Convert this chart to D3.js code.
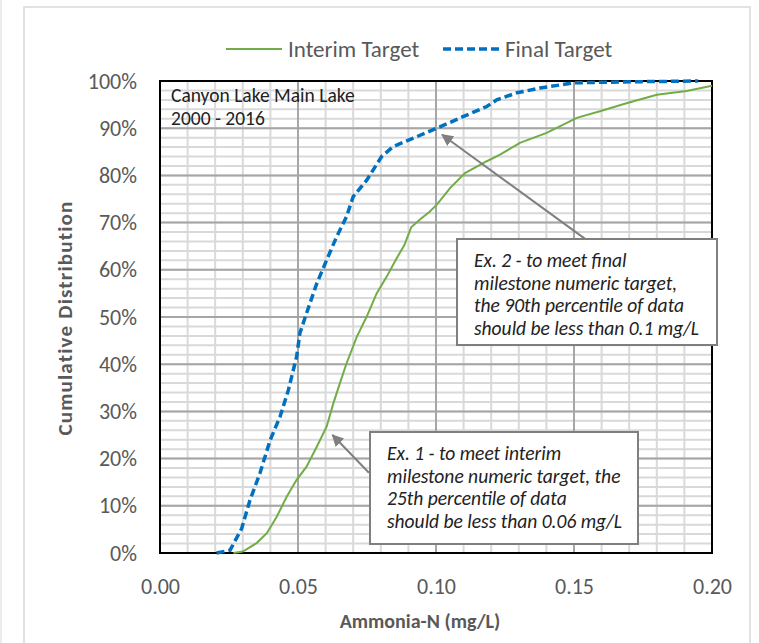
<!DOCTYPE html>
<html>
<head>
<meta charset="utf-8">
<script src="https://cdn.jsdelivr.net/npm/d3@7"></script>
<style>
  body { margin: 0; background: #fff; }
  svg { font-family: Carlito, Calibri, Lato, sans-serif; }
</style>
</head>
<body>
<div id="chart"></div>
<script>
// data
var seriesNames = ["Interim Target", "Final Target"];

var interimX = [0.0266, 0.030, 0.035, 0.0387, 0.0423, 0.0459, 0.0495, 0.0531, 0.0568, 0.0604, 0.0628, 0.0652, 0.0676, 0.0713, 0.0749, 0.0785, 0.0821, 0.0855, 0.0885, 0.091, 0.0945, 0.0975, 0.1003, 0.1051, 0.1105, 0.1184, 0.1232, 0.1304, 0.1401, 0.151, 0.1594, 0.169, 0.180, 0.1908, 0.200];
var interimY = [0, 0.003, 0.021, 0.042, 0.077, 0.119, 0.155, 0.183, 0.225, 0.268, 0.317, 0.360, 0.402, 0.458, 0.501, 0.550, 0.585, 0.622, 0.652, 0.690, 0.708, 0.722, 0.738, 0.773, 0.805, 0.830, 0.844, 0.869, 0.890, 0.922, 0.936, 0.953, 0.971, 0.979, 0.990];

var finalX = [0.0205, 0.0254, 0.0296, 0.0326, 0.0362, 0.0399, 0.0435, 0.0465, 0.0495, 0.0507, 0.0531, 0.0568, 0.0604, 0.064, 0.0676, 0.070, 0.0749, 0.0803, 0.0845, 0.0918, 0.1003, 0.110, 0.1184, 0.122, 0.1293, 0.1377, 0.1498, 0.1667, 0.195];
var finalY = [0, 0.006, 0.052, 0.112, 0.169, 0.239, 0.289, 0.345, 0.416, 0.466, 0.508, 0.571, 0.621, 0.670, 0.713, 0.755, 0.790, 0.840, 0.861, 0.879, 0.900, 0.925, 0.946, 0.960, 0.975, 0.985, 0.996, 0.998, 1.0];

var xTicks = [0, 0.05, 0.10, 0.15, 0.20];
var yTicks = [0, 0.1, 0.2, 0.3, 0.4, 0.5, 0.6, 0.7, 0.8, 0.9, 1.0];

var noteTitle = ["Canyon Lake Main Lake", "2000 - 2016"];
var note1 = ["Ex. 1 -  to meet interim", "milestone numeric target, the", "25th percentile of data", "should be less than 0.06 mg/L"];
var note2 = ["Ex. 2 -  to meet final", "milestone numeric target,", "the 90th percentile of data", "should be less than 0.1 mg/L"];

var width = 759;
var height = 643;
var margin = { top: 81, right: 47, bottom: 90, left: 160 };
var pw = width - margin.left - margin.right;
var ph = height - margin.top - margin.bottom;

var textGray = "#595959";

var svg = d3.select("#chart")
    .append("svg")
    .attr("width", width)
    .attr("height", height);

// outer chart frame
svg.append("rect")
    .attr("x", 24).attr("y", 7)
    .attr("width", 726).attr("height", 660)
    .attr("fill", "none")
    .attr("stroke", "#d9d9d9")
    .attr("stroke-width", 1.5);
svg.append("line")
    .attr("x1", 1).attr("x2", 1).attr("y1", 0).attr("y2", 643)
    .attr("stroke", "#d9d9d9");

var x = d3.scaleLinear().domain([0, 0.2]).range([0, pw]);
var y = d3.scaleLinear().domain([0, 1]).range([ph, 0]);

var g = svg.append("g")
    .attr("transform", "translate(" + margin.left + "," + margin.top + ")");

// minor grid
g.append("g")
    .selectAll("line")
    .data(d3.range(0, 0.2001, 0.01))
    .enter().append("line")
    .attr("x1", function (d) { return x(d); })
    .attr("x2", function (d) { return x(d); })
    .attr("y1", 0).attr("y2", ph)
    .attr("stroke", "#d9d9d9").attr("stroke-width", 2);
g.append("g")
    .selectAll("line")
    .data(d3.range(0, 1.0001, 0.02))
    .enter().append("line")
    .attr("y1", function (d) { return y(d); })
    .attr("y2", function (d) { return y(d); })
    .attr("x1", 0).attr("x2", pw)
    .attr("stroke", "#d9d9d9").attr("stroke-width", 2);

// major grid
g.append("g")
    .selectAll("line")
    .data(xTicks)
    .enter().append("line")
    .attr("x1", function (d) { return x(d); })
    .attr("x2", function (d) { return x(d); })
    .attr("y1", 0).attr("y2", ph)
    .attr("stroke", "#a6a6a6").attr("stroke-width", 2);
g.append("g")
    .selectAll("line")
    .data(yTicks)
    .enter().append("line")
    .attr("y1", function (d) { return y(d); })
    .attr("y2", function (d) { return y(d); })
    .attr("x1", 0).attr("x2", pw)
    .attr("stroke", "#a6a6a6").attr("stroke-width", 2);

// axes (labels only)
var xAxis = g.append("g")
    .attr("transform", "translate(0," + ph + ")")
    .call(d3.axisBottom(x).tickValues(xTicks).tickFormat(d3.format(".2f")).tickSize(0).tickPadding(25));
var yAxis = g.append("g")
    .call(d3.axisLeft(y).tickValues(yTicks).tickFormat(d3.format(".0%")).tickSize(0).tickPadding(23));
[xAxis, yAxis].forEach(function (a) {
    a.select(".domain").remove();
    a.selectAll("text")
        .attr("font-family", "Carlito, Calibri, Lato, sans-serif")
        .attr("font-size", "22px")
        .attr("fill", textGray);
});

// plot border
g.append("rect")
    .attr("width", pw).attr("height", ph)
    .attr("fill", "none")
    .attr("stroke", "#000")
    .attr("stroke-width", 2);

// curves
var line = d3.line()
    .x(function (d) { return x(d[0]); })
    .y(function (d) { return y(d[1]); });

g.append("path")
    .datum(d3.zip(interimX, interimY))
    .attr("d", line)
    .attr("fill", "none")
    .attr("stroke", "#70ad47")
    .attr("stroke-width", 2);

g.append("path")
    .datum(d3.zip(finalX, finalY))
    .attr("d", line)
    .attr("fill", "none")
    .attr("stroke", "#0070c0")
    .attr("stroke-width", 3.5)
    .attr("stroke-dasharray", "8,4");

// title note in the corner
g.append("text")
    .attr("x", 11).attr("y", 21)
    .attr("font-size", "19.5px")
    .attr("fill", "#222")
    .selectAll("tspan")
    .data(noteTitle)
    .enter().append("tspan")
    .attr("x", 11)
    .attr("dy", function (d, i) { return i ? 23 : 0; })
    .text(function (d) { return d; });

// arrows
var defs = svg.append("defs");
defs.append("marker")
    .attr("id", "arrow")
    .attr("viewBox", "0 0 10 10")
    .attr("refX", 9).attr("refY", 5)
    .attr("markerWidth", 6).attr("markerHeight", 6)
    .attr("orient", "auto")
    .append("path")
    .attr("d", "M0,0L10,5L0,10Z")
    .attr("fill", "#7f7f7f");

function arrow(x1, y1, x2, y2) {
    g.append("line")
        .attr("x1", x(x1)).attr("y1", y(y1))
        .attr("x2", x(x2)).attr("y2", y(y2))
        .attr("stroke", "#7f7f7f")
        .attr("stroke-width", 2)
        .attr("marker-end", "url(#arrow)");
}
arrow(0.1539, 0.666, 0.1022, 0.886);
arrow(0.0757, 0.170, 0.0625, 0.250);

// callout boxes
function callout(bx, by, bw, bh, lines) {
    var c = svg.append("g").attr("transform", "translate(" + bx + "," + by + ")");
    c.append("rect")
        .attr("width", bw).attr("height", bh)
        .attr("fill", "#fff")
        .attr("stroke", "#7f7f7f")
        .attr("stroke-width", 2);
    c.append("text")
        .attr("font-size", "19.5px")
        .attr("font-style", "italic")
        .attr("fill", "#222")
        .selectAll("tspan")
        .data(lines)
        .enter().append("tspan")
        .attr("x", 17)
        .attr("y", function (d, i) { return 28 + i * 22.5; })
        .text(function (d) { return d; });
}
callout(457, 239, 260, 106, note2);
callout(370, 432, 268, 112, note1);

// axis titles
svg.append("text")
    .attr("x", 420).attr("y", 628)
    .attr("text-anchor", "middle")
    .attr("font-size", "20px")
    .attr("font-weight", "bold")
    .attr("fill", textGray)
    .text("Ammonia-N (mg/L)");
svg.append("text")
    .attr("transform", "translate(72,318) rotate(-90)")
    .attr("text-anchor", "middle")
    .attr("font-size", "21px")
    .attr("font-weight", "bold")
    .attr("letter-spacing", "1.2px")
    .attr("fill", textGray)
    .text("Cumulative Distribution");

// legend
var legend = svg.append("g").attr("transform", "translate(226,49)");
var items = [
    { name: seriesNames[0], color: "#70ad47", w: 2, dash: null, x: 0 },
    { name: seriesNames[1], color: "#0070c0", w: 3.5, dash: "8,4", x: 217 }
];
items.forEach(function (it) {
    legend.append("line")
        .attr("x1", it.x).attr("x2", it.x + 56)
        .attr("stroke", it.color)
        .attr("stroke-width", it.w)
        .attr("stroke-dasharray", it.dash);
    legend.append("text")
        .attr("x", it.x + 62).attr("y", 8)
        .attr("font-size", "23px")
        .attr("fill", textGray)
        .text(it.name);
});
</script>
</body>
</html>
